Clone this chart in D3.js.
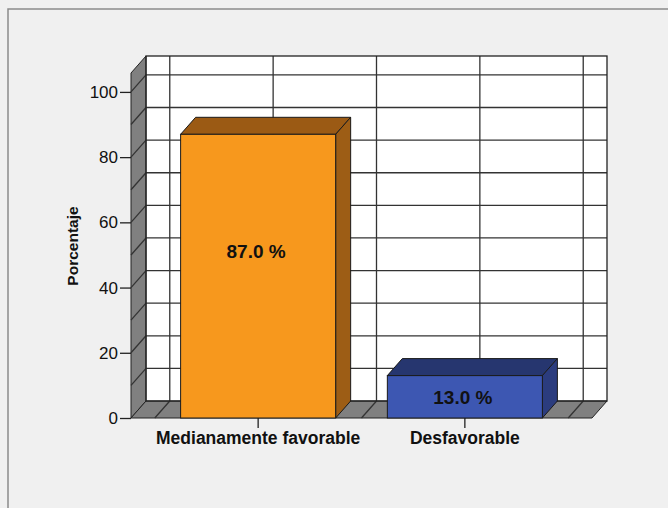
<!DOCTYPE html>
<html>
<head>
<meta charset="utf-8">
<script src="https://cdn.jsdelivr.net/npm/d3@7"></script>
<style>
    body { margin: 0; background: #f0f0f0; }
    svg { display: block; font-family: Arial, 'Liberation Sans', sans-serif; }
</style>
</head>
<body>
<svg id="chart" width="668" height="508"></svg>
<script>
    // data
    const categories = ["Medianamente favorable", "Desfavorable"];
    const percents = [87.0, 13.0];
    const barLabels = ["87.0 %", "13.0 %"];
    const labelAt = [51, 6.2]; // y value where each bar label sits
    const yTicks = [0, 20, 40, 60, 80, 100];
    const yGrid = [10, 20, 30, 40, 50, 60, 70, 80, 90, 100];

    const faceColors = ["#f7981d", "#3d57b2"];
    const topColors = ["#9b5a14", "#26366f"];
    const sideColors = ["#9d5d15", "#2b3c7e"];

    const svg = d3.select("#chart");
    const dx = 15, dy = -17; // depth offset of the 3d box

    // frame
    svg.append("rect")
        .attr("x", 8).attr("y", 9)
        .attr("width", 700).attr("height", 540)
        .attr("fill", "#f0f0f0")
        .attr("stroke", "#8a8a8a")
        .attr("stroke-width", 1.5);

    const x = d3.scaleBand()
        .domain(categories)
        .range([131, 592])
        .paddingInner(0.25)
        .paddingOuter(0.24);

    const y = d3.scaleLinear()
        .domain([0, 105.8])
        .range([418, 73]);

    const x0 = x.range()[0], x1 = x.range()[1];
    const yTop = y.range()[1], yBot = y.range()[0];

    // back wall
    svg.append("rect")
        .attr("x", x0 + dx).attr("y", yTop + dy)
        .attr("width", x1 - x0).attr("height", yBot - yTop)
        .attr("fill", "white");

    // side wall
    svg.append("path")
        .attr("d", `M${x0},${yBot}L${x0},${yTop}L${x0 + dx},${yTop + dy}L${x0 + dx},${yBot + dy}Z`)
        .attr("fill", "#808080")
        .attr("stroke", "#222").attr("stroke-width", 1);

    // floor
    svg.append("path")
        .attr("d", `M${x0},${yBot}L${x0 + dx},${yBot + dy}L${x1 + dx},${yBot + dy}L${x1},${yBot}Z`)
        .attr("fill", "#808080")
        .attr("stroke", "#222").attr("stroke-width", 1);

    // grid: horizontal on back wall + diagonals on side wall
    const grid = svg.append("g").attr("stroke", "#333").attr("stroke-width", 1.3);
    yGrid.forEach(v => {
        grid.append("line")
            .attr("x1", x0 + dx).attr("x2", x1 + dx)
            .attr("y1", y(v) + dy).attr("y2", y(v) + dy);
        grid.append("line")
            .attr("x1", x0).attr("x2", x0 + dx)
            .attr("y1", y(v)).attr("y2", y(v) + dy);
    });

    // vertical grid at category centres and boundaries
    const half = x.step() / 2;
    const vLines = [];
    categories.forEach((c, i) => {
        const cx = x(c) + x.bandwidth() / 2;
        if (i === 0) vLines.push(cx - half);
        vLines.push(cx, cx + half);
    });
    vLines.forEach(v => {
        grid.append("line")
            .attr("x1", v + dx).attr("x2", v + dx)
            .attr("y1", yTop + dy).attr("y2", yBot + dy);
        grid.append("line")
            .attr("x1", v).attr("x2", v + dx)
            .attr("y1", yBot).attr("y2", yBot + dy);
    });

    // back wall outline
    svg.append("rect")
        .attr("x", x0 + dx).attr("y", yTop + dy)
        .attr("width", x1 - x0).attr("height", yBot - yTop)
        .attr("fill", "none")
        .attr("stroke", "#222").attr("stroke-width", 1.3);

    // bars
    const bars = svg.append("g").attr("stroke", "#1a1a1a").attr("stroke-width", 1);
    categories.forEach((c, i) => {
        const bx = x(c), bw = x.bandwidth();
        const by = y(percents[i]);
        bars.append("path")
            .attr("d", `M${bx},${by}L${bx + dx},${by + dy}L${bx + bw + dx},${by + dy}L${bx + bw},${by}Z`)
            .attr("fill", topColors[i]);
        bars.append("path")
            .attr("d", `M${bx + bw},${by}L${bx + bw + dx},${by + dy}L${bx + bw + dx},${yBot + dy}L${bx + bw},${yBot}Z`)
            .attr("fill", sideColors[i]);
        bars.append("rect")
            .attr("x", bx).attr("y", by)
            .attr("width", bw).attr("height", yBot - by)
            .attr("fill", faceColors[i]);
    });

    // bar labels
    categories.forEach((c, i) => {
        svg.append("text")
            .attr("x", x(c) + x.bandwidth() / 2 - 2)
            .attr("y", y(labelAt[i]))
            .attr("dy", "0.35em")
            .attr("text-anchor", "middle")
            .attr("font-size", 19)
            .attr("font-weight", "bold")
            .attr("fill", "#111")
            .text(barLabels[i]);
    });

    // y axis
    const yAxis = svg.append("g")
        .attr("transform", `translate(${x0},0)`)
        .call(d3.axisLeft(y).tickValues(yTicks).tickSize(11).tickPadding(2).tickFormat(d3.format("d")));
    yAxis.select(".domain").remove();
    yAxis.selectAll("line").attr("stroke", "#222").attr("stroke-width", 1.3);
    yAxis.selectAll("text")
        .attr("font-size", 17)
        .attr("font-family", "Arial, 'Liberation Sans', sans-serif")
        .attr("fill", "#111");

    // x axis
    const xAxis = svg.append("g")
        .attr("transform", `translate(0,${yBot})`)
        .call(d3.axisBottom(x).tickSize(10).tickPadding(4));
    xAxis.select(".domain").remove();
    xAxis.selectAll("line").attr("stroke", "#222").attr("stroke-width", 1.3);
    xAxis.selectAll("text")
        .attr("font-size", 17.5)
        .attr("font-weight", "bold")
        .attr("font-family", "Arial, 'Liberation Sans', sans-serif")
        .attr("fill", "#111");

    // y title
    svg.append("text")
        .attr("transform", "translate(78,246) rotate(-90)")
        .attr("text-anchor", "middle")
        .attr("font-size", 15.5)
        .attr("font-weight", "bold")
        .attr("fill", "#111")
        .text("Porcentaje");
</script>
</body>
</html>
